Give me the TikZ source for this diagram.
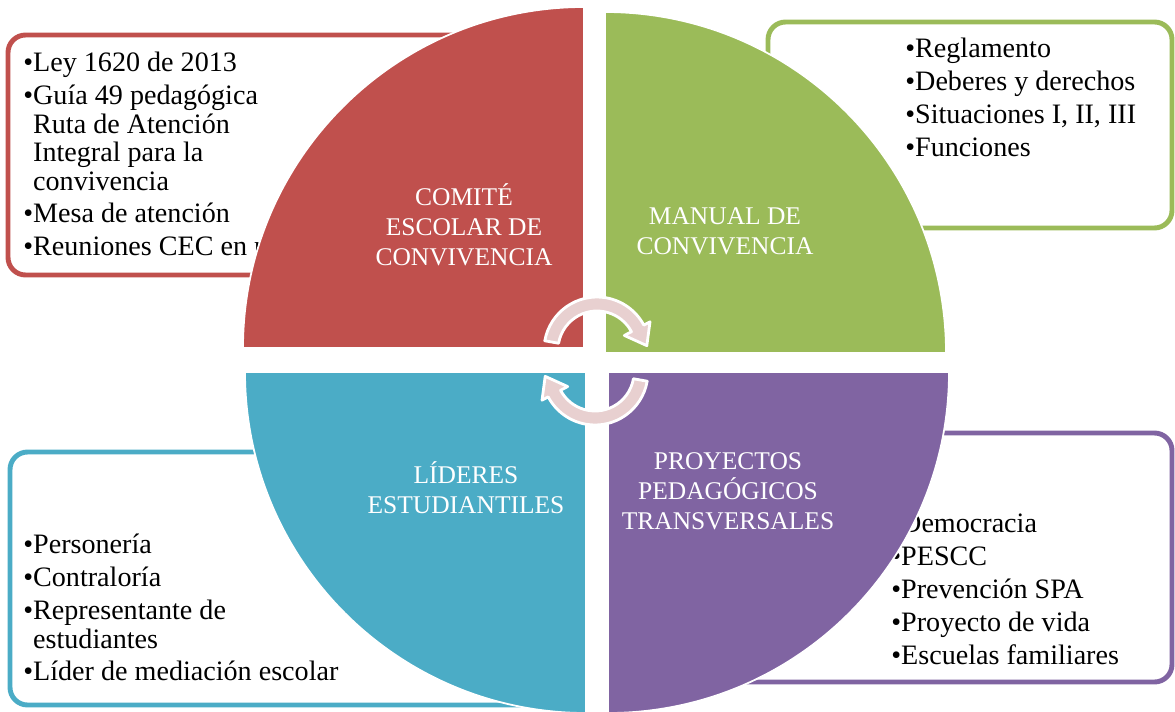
\documentclass[tikz,border=0pt]{standalone}
\usepackage{fontspec}
\setmainfont{Liberation Serif}
\definecolor{comiteRed}{HTML}{C0504D}
\definecolor{manualGreen}{HTML}{9BBB59}
\definecolor{lideresBlue}{HTML}{4BACC6}
\definecolor{proyPurple}{HTML}{8064A2}
\definecolor{cyclePink}{HTML}{E8D0D0}
\newcommand{\hang}{\hphantom{•}}

\begin{document}
\begin{tikzpicture}[x = 0.02cm, y = 0.02cm,
  listbox/.style = {draw = #1, line width = 2.8pt, rounded corners = 10pt, fill = white},
  quadrant/.style = {fill = #1, draw = white, line width = 1pt},
  quadlabel/.style = {text = white, align = center, inner sep = 0pt, font = \fontsize{14.5}{17}\selectfont},
  bulletlist/.style = {anchor = north west, inner sep = 0pt, align = left, font = \fontsize{16}{16.2}\selectfont},
  cyclearrow/.style = {fill = cyclePink, draw = white, line width = 1.6pt, line join = round}]

	\useasboundingbox (0, 0) rectangle (1175, 711);

	% boxes behind the circle
	\draw[listbox = comiteRed]   (8, 436)   rectangle (570, 676);
	\draw[listbox = manualGreen] (768, 483) rectangle (1172, 689);
	\draw[listbox = lideresBlue] (10, 6)    rectangle (570, 259);
	\draw[listbox = proyPurple]  (620, 29)  rectangle (1172, 278);

	\node (ComiteList)    at ( 23, 659) [bulletlist] {•Ley 1620 de 2013\\[2.5pt] •Guía 49 pedagógica\\ \hang Ruta de Atención\\ \hang Integral para la\\ \hang convivencia\\[2.5pt] •Mesa de atención\\[2.5pt] •Reuniones CEC en p};
	\node (ManualList)    at (905, 673) [bulletlist] {•Reglamento\\[2.5pt] •Deberes y derechos\\[2.5pt] •Situaciones I, II, III\\[2.5pt] •Funciones};
	\node (LideresList)   at ( 23, 177) [bulletlist] {•Personería\\[2.5pt] •Contraloría\\[2.5pt] •Representante de\\ \hang estudiantes\\[2.5pt] •Líder de mediación escolar};
	\node (ProyectosList) at (891, 197) [bulletlist] {•Democracia\\[2.5pt] •PESCC\\[2.5pt] •Prevención SPA\\[2.5pt] •Proyecto de vida\\[2.5pt] •Escuelas familiares};

	% the four quarters
	\foreach \cx/\cy/\a/\col in {584/363/180/comiteRed, 605/358/90/manualGreen, 586/339/270/lideresBlue, 608/339/0/proyPurple}
		\draw[quadrant = \col] (\cx, \cy) -- ++(\a:341) arc[start angle = \a, end angle = \a - 90, radius = 341] -- cycle;

	\node (Comite)    at (464, 486) [quadlabel] {COMITÉ\\ ESCOLAR DE\\ CONVIVENCIA};
	\node (Manual)    at (725, 480) [quadlabel] {MANUAL DE\\ CONVIVENCIA};
	\node (Lideres)   at (466, 223) [quadlabel] {LÍDERES\\ ESTUDIANTILES};
	\node (Proyectos) at (728, 220) [quadlabel] {PROYECTOS\\ PEDAGÓGICOS\\ TRANSVERSALES};

	% cycle arrows in the middle
	\foreach \cx/\cy/\rot in {597/361/0, 595/339/180}
		\draw[cyclearrow, shift = {(\cx, \cy)}, rotate = \rot] (170:53) arc[start angle = 170, end angle = 28, radius = 53]
			-- (28:60) -- (5:50) -- (28:31) -- (28:39) arc[start angle = 28, end angle = 170, radius = 39] -- cycle;

\end{tikzpicture}
\end{document}
